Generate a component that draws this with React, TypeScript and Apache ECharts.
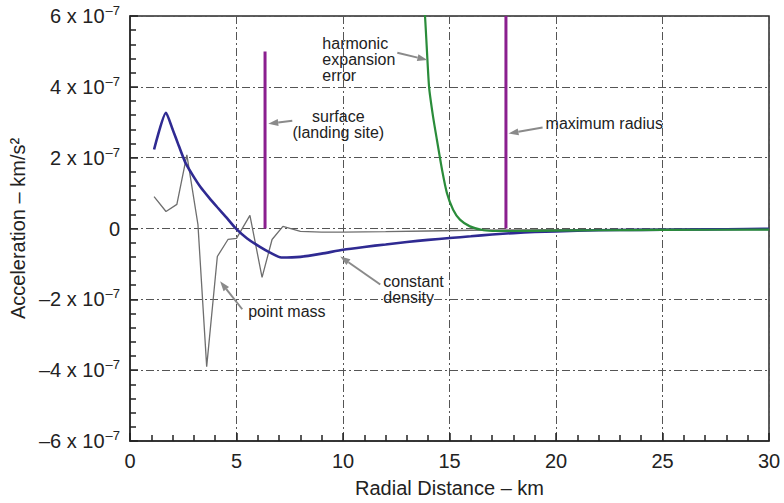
import React, { useEffect, useRef } from "react";
import * as echarts from "echarts";

// Radial acceleration in units of 1e-7 km/s^2 versus radial distance in km.
const FONT = "'Liberation Sans', Arial, Helvetica, sans-serif";

const xTicks = [0, 5, 10, 15, 20, 25, 30];
const yTicks = [-6, -4, -2, 0, 2, 4, 6];

// point mass model
const pointMassKm = [1.13, 1.69, 2.2, 2.67, 3.19, 3.6, 4.1, 4.6, 5.0, 5.63, 6.2, 6.67, 7.18, 8.0, 9.0, 10, 12, 14, 16, 18, 20, 22, 25, 30];
const pointMassAcc = [0.9, 0.48, 0.68, 2.08, 0.11, -3.9, -0.79, -0.31, -0.28, 0.37, -1.38, -0.31, 0.06, -0.08, -0.1, -0.1, -0.09, -0.07, -0.05, -0.04, -0.03, -0.03, -0.02, -0.01];

// constant density model
const constDensityKm = [1.13, 1.69, 2.0, 2.3, 2.6, 3.0, 3.3, 3.7, 4.1, 4.5, 5.0, 5.5, 6.1, 6.6, 7.1, 8, 9, 10, 11, 12, 13, 14, 15, 16, 17, 18, 19, 20, 22, 24, 26, 28, 30];
const constDensityAcc = [2.23, 3.27, 2.8, 2.32, 1.86, 1.45, 1.18, 0.88, 0.6, 0.33, -0.02, -0.28, -0.52, -0.69, -0.82, -0.8, -0.71, -0.6, -0.52, -0.45, -0.38, -0.32, -0.27, -0.22, -0.17, -0.13, -0.1, -0.08, -0.05, -0.04, -0.03, -0.02, -0.01];

// harmonic expansion error
const harmonicKm = [13.7, 13.85, 14.04, 14.23, 14.41, 14.65, 14.88, 15.17, 15.49, 15.96, 16.6, 17.2, 18, 20, 22, 25, 30];
const harmonicAcc = [7.0, 6.0, 4.0, 3.15, 2.5, 1.66, 1.0, 0.53, 0.25, 0.06, -0.05, -0.07, -0.07, -0.06, -0.05, -0.04, -0.03];

// reference radii
const surfaceKm = 6.34;
const surfaceTop = 5.0;
const maxRadiusKm = 17.65;
const maxRadiusTop = 6.0;

type Note = { text: string; at: [number, number]; align: "left" | "center" };
const notes: Note[] = [
  { text: "harmonic\nexpansion\nerror", at: [9.03, 5.46], align: "left" },
  { text: "surface\n(landing site)", at: [9.78, 3.39], align: "center" },
  { text: "maximum radius", at: [19.51, 3.18], align: "left" },
  { text: "constant\ndensity", at: [11.89, -1.27], align: "left" },
  { text: "point mass", at: [5.55, -2.11], align: "left" },
];

// arrows: [tail, head]
const arrows: [number, number][][] = [
  [[12.55, 4.96], [13.96, 4.76]],
  [[7.62, 3.04], [6.49, 2.96]],
  [[19.37, 2.85], [17.77, 2.68]],
  [[11.75, -1.58], [9.87, -0.79]],
  [[5.27, -2.28], [4.23, -1.49]],
];

const zip = (a: number[], b: number[]) => a.map((v, i) => [v, b[i]]);

export default function App() {
  const ref = useRef<HTMLDivElement>(null);

  useEffect(() => {
    if (!ref.current) return;
    const chart = echarts.init(ref.current, undefined, { renderer: "svg" });

    const makeTicks = () => ({
      axisTick: { show: true, inside: true, length: 8, lineStyle: { color: "#222", width: 1.5 } },
      minorTick: { show: true, splitNumber: 5, length: 6, lineStyle: { color: "#222", width: 1.5 } },
    });

    const option: any = {
      animation: false,
      backgroundColor: "#ffffff",
      textStyle: { fontFamily: FONT },
      grid: {
        left: 130,
        right: 15,
        top: 16,
        bottom: 61,
        show: true,
        borderColor: "#2a2a2a",
        borderWidth: 1.5,
      },
      xAxis: {
        type: "value",
        min: xTicks[0],
        max: xTicks[xTicks.length - 1],
        interval: 5,
        name: "Radial Distance – km",
        nameLocation: "middle",
        nameGap: 37,
        nameTextStyle: { fontSize: 20, color: "#222", fontFamily: FONT },
        axisLine: { show: true, onZero: false, lineStyle: { color: "#2a2a2a", width: 1.5 } },
        ...makeTicks(),
        axisLabel: { fontSize: 20, color: "#222", margin: 10, fontFamily: FONT },
        splitLine: { show: true, lineStyle: { color: "#555", width: 1, type: [8, 3, 2, 3] } },
      },
      yAxis: {
        type: "value",
        min: yTicks[0],
        max: yTicks[yTicks.length - 1],
        interval: 2,
        name: "Acceleration – km/s²",
        nameLocation: "middle",
        nameGap: 102,
        nameTextStyle: { fontSize: 20, color: "#222", fontFamily: FONT },
        axisLine: { show: true, onZero: false, lineStyle: { color: "#2a2a2a", width: 1.5 } },
        ...makeTicks(),
        axisLabel: {
          margin: 10,
          color: "#222",
          fontFamily: FONT,
          formatter: (v: number) => {
            if (v === 0) return "{m|0}";
            const sign = v < 0 ? "–" : "";
            return `{m|${sign}${Math.abs(v)} x 10}{s|–7}`;
          },
          rich: {
            m: { fontSize: 20, color: "#222", fontFamily: FONT, lineHeight: 24 },
            s: { fontSize: 13, color: "#222", fontFamily: FONT, verticalAlign: "top", padding: [0, 0, 0, 1] },
          },
        },
        splitLine: { show: true, lineStyle: { color: "#555", width: 1, type: [8, 3, 2, 3] } },
      },
      series: [
        {
          name: "point mass",
          type: "line",
          data: zip(pointMassKm, pointMassAcc),
          showSymbol: false,
          lineStyle: { color: "#6e6e6e", width: 1.3 },
          z: 3,
        },
        {
          name: "constant density",
          type: "line",
          data: zip(constDensityKm, constDensityAcc),
          showSymbol: false,
          smooth: 0.2,
          lineStyle: { color: "#2f2a92", width: 2.6 },
          z: 4,
        },
        {
          name: "harmonic expansion error",
          type: "line",
          data: zip(harmonicKm, harmonicAcc),
          showSymbol: false,
          smooth: 0.2,
          clip: true,
          lineStyle: { color: "#2a8c3a", width: 2.2 },
          z: 5,
        },
        {
          name: "surface",
          type: "line",
          data: [
            [surfaceKm, 0],
            [surfaceKm, surfaceTop],
          ],
          showSymbol: false,
          lineStyle: { color: "#8b1f8f", width: 3 },
          z: 6,
        },
        {
          name: "maximum radius",
          type: "line",
          data: [
            [maxRadiusKm, 0],
            [maxRadiusKm, maxRadiusTop],
          ],
          showSymbol: false,
          lineStyle: { color: "#8b1f8f", width: 3 },
          z: 6,
        },
      ],
    };

    chart.setOption(option);

    const px = (p: [number, number]) => chart.convertToPixel({ gridIndex: 0 }, p) as number[];
    const graphics: any[] = [];
    notes.forEach((n) => {
      const [x, y] = px(n.at);
      graphics.push({
        type: "text",
        x,
        y,
        z: 20,
        style: {
          text: n.text,
          fontSize: 16,
          lineHeight: 16,
          fontFamily: FONT,
          fill: "#222",
          align: n.align,
          verticalAlign: "top",
        },
      });
    });
    arrows.forEach(([tail, head]) => {
      const [x1, y1] = px(tail);
      const [x2, y2] = px(head);
      const dx = x2 - x1;
      const dy = y2 - y1;
      const len = Math.hypot(dx, dy) || 1;
      const ux = dx / len;
      const uy = dy / len;
      const hl = 10;
      const hw = 3.5;
      const bx = x2 - ux * hl;
      const by = y2 - uy * hl;
      graphics.push({
        type: "line",
        z: 20,
        shape: { x1, y1, x2: bx, y2: by },
        style: { stroke: "#8a8a8a", lineWidth: 2 },
      });
      graphics.push({
        type: "polygon",
        z: 20,
        shape: {
          points: [
            [x2, y2],
            [bx - uy * hw, by + ux * hw],
            [bx + uy * hw, by - ux * hw],
          ],
        },
        style: { fill: "#8a8a8a" },
      });
    });
    chart.setOption({ graphic: graphics });

    return () => chart.dispose();
  }, []);

  return (
    <div
      ref={ref}
      style={{ position: "absolute", left: 0, top: 0, width: 784, height: 503, background: "#fff" }}
    />
  );
}
